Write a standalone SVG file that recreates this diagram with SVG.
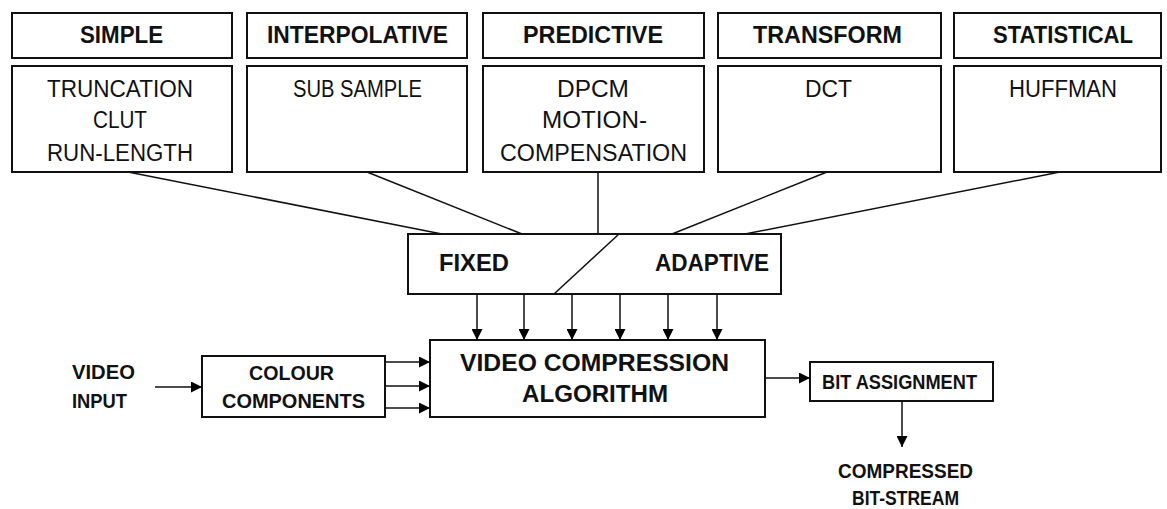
<svg xmlns="http://www.w3.org/2000/svg" width="1167" height="509" viewBox="0 0 1167 509">
<defs>
<marker id="arr" markerUnits="userSpaceOnUse" markerWidth="11" markerHeight="11" viewBox="0 0 12 12" refX="12" refY="6" orient="auto">
<path d="M0,0 L12,6 L0,12 z" fill="#000"/>
</marker>
<style>
.box{fill:#fff;stroke:#111;stroke-width:2}
.ln{stroke:#111;stroke-width:1.5;fill:none}
.ar{stroke:#111;stroke-width:1.5;fill:none;marker-end:url(#arr)}
.h{font-family:"Liberation Sans",Arial,sans-serif;font-weight:bold;font-size:23px;fill:#111}
.t{font-family:"Liberation Sans",Arial,sans-serif;font-size:23px;fill:#111}
.b{font-family:"Liberation Sans",Arial,sans-serif;font-weight:bold;font-size:20px;fill:#111}
</style>
</defs>
<rect width="1167" height="509" fill="#fff"/>

<g id="simple">
<rect class="box" x="12" y="13" width="220" height="45"/>
<text class="h" x="80" y="43" textLength="83" lengthAdjust="spacingAndGlyphs">SIMPLE</text>
<rect class="box" x="12" y="66" width="220" height="106"/>
<text class="t" x="47" y="97" textLength="146" lengthAdjust="spacingAndGlyphs">TRUNCATION</text>
<text class="t" x="93" y="128" textLength="54" lengthAdjust="spacingAndGlyphs">CLUT</text>
<text class="t" x="47" y="161" textLength="146" lengthAdjust="spacingAndGlyphs">RUN-LENGTH</text>
</g>

<g id="interpolative">
<rect class="box" x="247" y="13" width="220" height="45"/>
<text class="h" x="267" y="43" textLength="181" lengthAdjust="spacingAndGlyphs">INTERPOLATIVE</text>
<rect class="box" x="247" y="66" width="220" height="106"/>
<text class="t" x="293" y="97" textLength="129" lengthAdjust="spacingAndGlyphs">SUB SAMPLE</text>
</g>

<g id="predictive">
<rect class="box" x="483" y="13" width="221" height="45"/>
<text class="h" x="523" y="43" textLength="140" lengthAdjust="spacingAndGlyphs">PREDICTIVE</text>
<rect class="box" x="483" y="66" width="221" height="106"/>
<text class="t" x="557" y="97" textLength="72" lengthAdjust="spacingAndGlyphs">DPCM</text>
<text class="t" x="542" y="128" textLength="105" lengthAdjust="spacingAndGlyphs">MOTION-</text>
<text class="t" x="500" y="161" textLength="187" lengthAdjust="spacingAndGlyphs">COMPENSATION</text>
</g>

<g id="transform">
<rect class="box" x="718" y="13" width="223" height="45"/>
<text class="h" x="753" y="43" textLength="149" lengthAdjust="spacingAndGlyphs">TRANSFORM</text>
<rect class="box" x="718" y="66" width="223" height="106"/>
<text class="t" x="805" y="97" textLength="47" lengthAdjust="spacingAndGlyphs">DCT</text>
</g>

<g id="statistical">
<rect class="box" x="954" y="13" width="207" height="45"/>
<text class="h" x="993" y="43" textLength="140" lengthAdjust="spacingAndGlyphs">STATISTICAL</text>
<rect class="box" x="954" y="66" width="207" height="106"/>
<text class="t" x="1009" y="97" textLength="108" lengthAdjust="spacingAndGlyphs">HUFFMAN</text>
</g>

<g id="fixed-adaptive">
<rect class="box" x="408" y="234" width="373" height="60"/>
<line class="ln" x1="619" y1="234" x2="554" y2="294"/>
<text class="h" x="439" y="271" textLength="70" lengthAdjust="spacingAndGlyphs">FIXED</text>
<text class="h" x="655" y="271" textLength="114" lengthAdjust="spacingAndGlyphs">ADAPTIVE</text>
</g>

<g id="video-input">
<text class="b" x="72" y="379" textLength="63" lengthAdjust="spacingAndGlyphs">VIDEO</text>
<text class="b" x="72" y="408" textLength="55" lengthAdjust="spacingAndGlyphs">INPUT</text>
</g>

<g id="colour-components">
<rect class="box" x="202" y="356" width="183" height="61"/>
<text class="b" x="249" y="380" textLength="85" lengthAdjust="spacingAndGlyphs">COLOUR</text>
<text class="b" x="222" y="408" textLength="143" lengthAdjust="spacingAndGlyphs">COMPONENTS</text>
</g>

<g id="vca">
<rect class="box" x="430" y="340" width="335" height="77"/>
<text class="h" x="460" y="371" textLength="269" lengthAdjust="spacingAndGlyphs">VIDEO COMPRESSION</text>
<text class="h" x="522" y="402" textLength="146" lengthAdjust="spacingAndGlyphs">ALGORITHM</text>
</g>

<g id="bit-assignment">
<rect class="box" x="810" y="362" width="183" height="39"/>
<text class="b" x="822" y="389" textLength="155" lengthAdjust="spacingAndGlyphs">BIT ASSIGNMENT</text>
</g>

<g id="compressed-output">
<text class="b" x="838" y="478" textLength="135" lengthAdjust="spacingAndGlyphs">COMPRESSED</text>
<text class="b" x="852" y="505" textLength="107" lengthAdjust="spacingAndGlyphs">BIT-STREAM</text>
</g>

<g id="connectors">
<line class="ln" x1="128" y1="172" x2="442" y2="234"/>
<line class="ln" x1="367" y1="172" x2="522" y2="234"/>
<line class="ln" x1="598" y1="172" x2="598" y2="234"/>
<line class="ln" x1="827" y1="172" x2="672" y2="234"/>
<line class="ln" x1="1060" y1="172" x2="745" y2="234"/>
<line class="ar" x1="477" y1="294" x2="477" y2="340"/>
<line class="ar" x1="524" y1="294" x2="524" y2="340"/>
<line class="ar" x1="572" y1="294" x2="572" y2="340"/>
<line class="ar" x1="620" y1="294" x2="620" y2="340"/>
<line class="ar" x1="668" y1="294" x2="668" y2="340"/>
<line class="ar" x1="717" y1="294" x2="717" y2="340"/>
<line class="ar" x1="155" y1="387" x2="202" y2="387"/>
<line class="ar" x1="385" y1="362" x2="430" y2="362"/>
<line class="ar" x1="385" y1="386" x2="430" y2="386"/>
<line class="ar" x1="385" y1="408" x2="430" y2="408"/>
<line class="ar" x1="765" y1="378" x2="810" y2="378"/>
<line class="ar" x1="902" y1="401" x2="902" y2="447"/>
</g>
</svg>
